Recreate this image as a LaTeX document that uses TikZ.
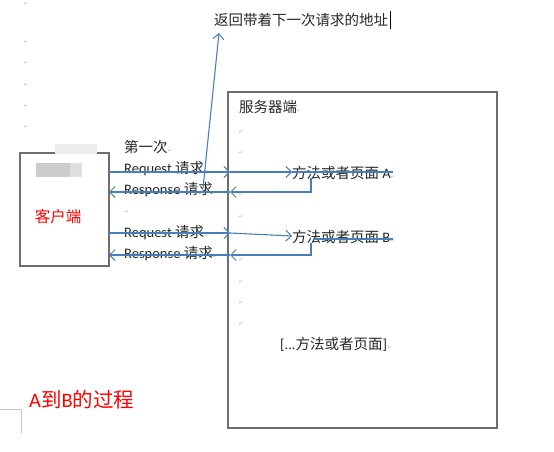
\documentclass[tikz,border=0pt]{standalone}
\usepackage{fontspec}
\setmainfont{Carlito}
\newfontfamily\cjk{Noto Sans CJK SC}
\newfontfamily\djv{DejaVu Sans}
\usetikzlibrary{arrows.meta}
\definecolor{wblue}{HTML}{4A7EBB}
\definecolor{txt}{HTML}{262626}
\definecolor{bord}{HTML}{6E6E6E}
\newcommand\pmk{{\djv\fontsize{5}{5}\selectfont\textcolor{gray!60}{↵}}}
\tikzset{
  lbl/.style={anchor=west,inner sep=0pt,text=txt,font=\fontsize{14.5}{15}\selectfont},
  mk/.style={anchor=center,inner sep=0pt},
  arr/.style={draw=wblue,line width=1.1pt,-{Straight Barb[length=5.5pt,width=11pt,line width=1pt]}},
  ln/.style={draw=wblue,line width=1.1pt},
  box/.style={draw=bord,line width=1.1pt,fill=white,inner sep=0pt}
}
\begin{document}
\begin{tikzpicture}[x=1pt,y=-1pt]
\useasboundingbox (0,0) rectangle (554,452);
% boxes
\node[box,minimum width=269pt,minimum height=336pt] (server) at (362.5,260) {};
\node[box,minimum width=89pt,minimum height=113pt] (client) at (64.5,209.5) {};
% blurred redaction
\fill[gray!15] (55,144) rectangle (97,154);
\fill[gray!40] (36,163) rectangle (82,177);
\fill[gray!25] (70,163) rectangle (82,177);
% paragraph marks, left column
\foreach \yy/\nm in {4/l0,42/l1,63/l2,85/l3,106/l4,127/l5}{\node[mk] (\nm) at (26,\yy) {\pmk};}
\node[mk] (m1) at (127,212) {\pmk};
% paragraph marks, server column
\foreach \yy/\nm in {132/s1,153/s2,195/s3,217/s4,260/s5,282/s6,303/s7,324/s8}{\node[mk] (\nm) at (241,\yy) {\pmk};}
% texts
\node[lbl] (title) at (214,20) {\cjk 返回带着下一次请求的地址};
\draw[black,line width=1pt] (390.5,11) -- (390.5,29);
\node[lbl] (srvlbl) at (239,107) {\cjk 服务器端\pmk};
\node[lbl] (first) at (124,147) {\cjk 第一次\pmk};
\node[lbl] (req1) at (124,169) {Request {\cjk 请求}\pmk};
\node[lbl] (res1) at (124,190) {Response {\cjk 请求}\pmk};
\node[lbl] (req2) at (124,233) {Request {\cjk 请求}\pmk};
\node[lbl] (res2) at (124,254) {Response {\cjk 请求}\pmk};
\node[lbl] (pA) at (292,173) {{\cjk 方法或者页面} A\pmk};
\node[lbl] (pB) at (292,237) {{\cjk 方法或者页面} B\pmk};
\node[lbl] (pE) at (280,344) {[...{\cjk 方法或者页面}]\pmk};
\node[anchor=center,inner sep=0pt,text=red,font=\fontsize{15.5}{16}\selectfont] (clbl) at (58,217) {\cjk 客户端};
\node[anchor=west,inner sep=0pt,text=red,font=\fontsize{20.5}{21}\selectfont] (proc) at (29,400) {A{\cjk 到}B{\cjk 的过程}};
% corner mark
\draw[gray!45,line width=0.6pt] (0,409) -- (21,409) -- (21,433);
% connector coordinates
\coordinate (cA1) at (109,172); \coordinate (sA1) at (230,172);
\coordinate (tA) at (292,172); \coordinate (eA) at (393,172);
\coordinate (vA) at (311,178); \coordinate (kA) at (311,192);
\coordinate (sA2) at (230,192); \coordinate (cA2) at (109,192);
\coordinate (cB1) at (109,233); \coordinate (sB1) at (230,233);
\coordinate (tB) at (292,236); \coordinate (bB) at (313,239); \coordinate (eB) at (393,239);
\coordinate (vB) at (311,243); \coordinate (kB) at (311,255);
\coordinate (sB2) at (230,255); \coordinate (cB2) at (109,255);
\coordinate (up0) at (203,188); \coordinate (up1) at (219,33);
% connectors
\draw[arr] (cA1) -- (sA1);
\draw[arr] (sA1) -- (tA);
\draw[ln] (tA) -- (eA);
\draw[arr] (vA) -- (kA) -- (sA2);
\draw[arr] (sA2) -- (cA2);
\draw[arr] (cB1) -- (sB1);
\draw[arr] (sB1) -- (tB);
\draw[ln] (bB) -- (eB);
\draw[arr] (vB) -- (kB) -- (sB2);
\draw[arr] (sB2) -- (cB2);
\draw[arr] (up0) -- (up1);
\end{tikzpicture}
\end{document}
